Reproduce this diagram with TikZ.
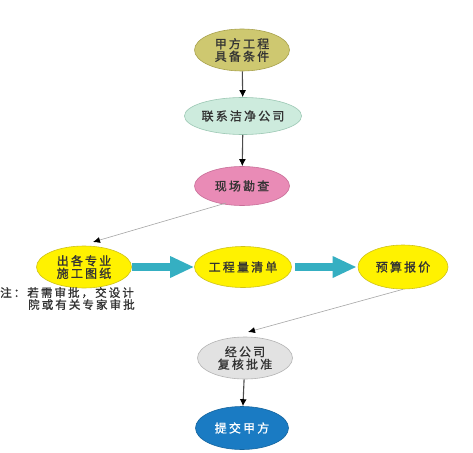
\documentclass[tikz,border=0pt]{standalone}
\usepackage{fontspec}
\newfontfamily\cjk[LetterSpace=18,FakeBold=1.2]{Noto Sans CJK SC}
\usetikzlibrary{arrows.meta,shapes.geometric}
\definecolor{olivefill}{HTML}{CEC870}
\definecolor{oliveline}{HTML}{A9A24E}
\definecolor{greenfill}{HTML}{CDEBDD}
\definecolor{greenline}{HTML}{9CC8B4}
\definecolor{pinkfill}{HTML}{E98BB6}
\definecolor{pinkline}{HTML}{C86E98}
\definecolor{yelfill}{HTML}{FFF200}
\definecolor{yelline}{HTML}{CFC21A}
\definecolor{grayfill}{HTML}{E2E2E2}
\definecolor{grayline}{HTML}{B4B4B4}
\definecolor{bluefill}{HTML}{1A7BC3}
\definecolor{blueline}{HTML}{14649E}
\definecolor{teal}{HTML}{35AFC2}
\definecolor{txt}{HTML}{333333}
\tikzset{
  oval/.style={ellipse, draw, line width=0.6pt, inner sep=0pt, font=\cjk\fontsize{12}{12.5}\selectfont, text=txt, align=center},
  thin/.style={draw=black!35, line width=0.6pt, -{Latex[length=7pt,width=6pt,black]}},
  down/.style={draw=black!70, line width=1.1pt, -{Latex[length=7pt,width=7pt,black]}},
  big/.style={draw=teal, line width=8pt, -{Triangle[length=24pt,width=20pt]}},
}
\begin{document}
\begin{tikzpicture}[x=1pt,y=-1pt]
\useasboundingbox (0,0) rectangle (473,452);
\fill[white] (0,0) rectangle (473,452);
\node[oval, fill=olivefill, draw=oliveline, minimum width=95pt, minimum height=42pt] (a) at (242,50) {甲方工程\\具备条件};
\node[oval, fill=greenfill, draw=greenline, minimum width=98pt, minimum height=37pt] (b) at (243,116) {联系洁净公司};
\node[oval, fill=pinkfill, draw=pinkline, minimum width=95pt, minimum height=39pt] (c) at (242,186) {现场勘查};
\node[oval, fill=yelfill, draw=yelline, minimum width=95pt, minimum height=42pt] (d) at (84,267) {出各专业\\施工图纸};
\node[oval, fill=yelfill, draw=yelline, minimum width=97pt, minimum height=41pt] (e) at (243,267) {工程量清单};
\node[oval, fill=yelfill, draw=yelline, minimum width=90pt, minimum height=44pt] (f) at (403,267) {预算报价};
\node[oval, fill=grayfill, draw=grayline, minimum width=95pt, minimum height=42pt] (g) at (245,358) {经公司\\复核批准};
\node[oval, fill=bluefill, draw=blueline, text=white, minimum width=93pt, minimum height=43pt] (h) at (242,428) {提交甲方};
\node[anchor=north west, inner sep=0pt, font=\cjk\fontsize{11.5}{12}\selectfont, text=txt, align=left] (note) at (0,287) {注：若需审批，交设计\\\hspace*{28pt}院或有关专家审批};
\coordinate (ct) at (93,242);
\coordinate (gt) at (248,332);
\draw[down] (a) -- (b);
\draw[down] (b) -- (c);
\draw[thin] (c.south west) ++(18,3) coordinate (cs) (cs) -- (ct);
\draw[big] (d.east) -- (e.west);
\draw[big] ([xshift=3pt]e.east) -- ([xshift=-1pt]f.west);
\draw[thin] (f.south) -- (gt);
\draw[down] (g) -- (h);
\end{tikzpicture}
\end{document}
